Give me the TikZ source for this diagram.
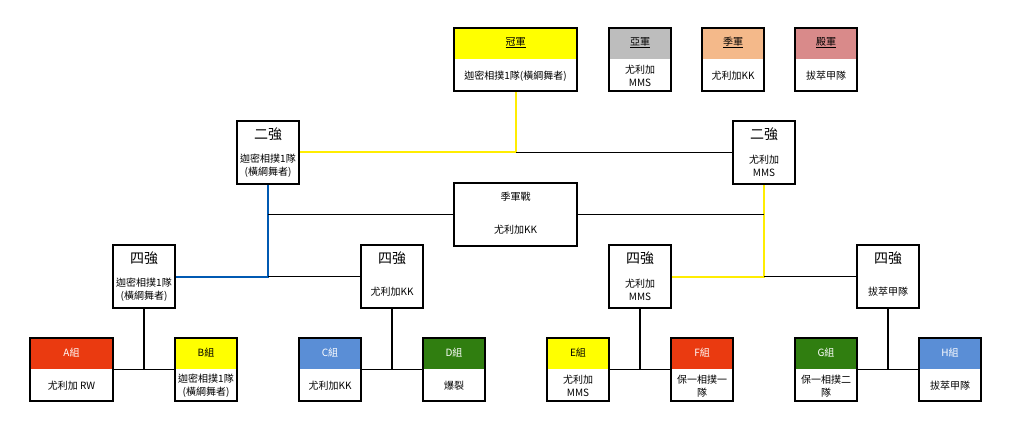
\documentclass[tikz,border=0pt]{standalone}
\usepackage{fontspec}
\setmainfont{Noto Sans CJK TC}
\usetikzlibrary{positioning}
\tikzset{
  box/.style={rectangle, draw=black, line width=1.6pt, inner sep=0pt, minimum height=63pt},
  head/.style={path picture={\fill[#1] ([yshift=-0.8pt]path picture bounding box.north west) rectangle ([yshift=-31pt]path picture bounding box.north east);}},
  txt/.style={font=\fontsize{10}{13}\selectfont, align=center},
  big/.style={font=\fontsize{14}{16}\selectfont},
  link/.style={line width=1.6pt, black},
  win/.style={line width=2pt, yellow!95!orange},
  bluewin/.style={line width=2pt, blue!50!cyan!70!black},
}
\definecolor{cRed}{HTML}{EA3A10}
\definecolor{cYel}{HTML}{FFFF00}
\definecolor{cBlue}{HTML}{5A8ED6}
\definecolor{cGreen}{HTML}{307E10}
\definecolor{cGray}{HTML}{BDBDBD}
\definecolor{cPeach}{HTML}{F4B98A}
\definecolor{cRose}{HTML}{D98A8A}
\begin{document}
\begin{tikzpicture}[x=1pt, y=-1pt]
\useasboundingbox (0,0) rectangle (1011,430);

% medal boxes
\node (champ) [box, head=cYel, minimum width=123pt] at (515.5,59.5) {};
\node (second) [box, head=cGray, minimum width=62pt] at (640,59.5) {};
\node (third) [box, head=cPeach, minimum width=62pt] at (733,59.5) {};
\node (fourth) [box, head=cRose, minimum width=62pt] at (826,59.5) {};
\node[txt] at ([yshift=-15.5pt]champ.north) {\underline{冠軍}};
\node[txt] at ([yshift=16pt]champ.south) {迦密相撲1隊(橫綱舞者)};
\node[txt] at ([yshift=-15.5pt]second.north) {\underline{亞軍}};
\node[txt] at ([yshift=16pt]second.south) {尤利加\\MMS};
\node[txt] at ([yshift=-15.5pt]third.north) {\underline{季軍}};
\node[txt] at ([yshift=16pt]third.south) {尤利加KK};
\node[txt] at ([yshift=-15.5pt]fourth.north) {\underline{殿軍}};
\node[txt] at ([yshift=16pt]fourth.south) {拔萃甲隊};

% final two
\node (fL) [box, minimum width=62pt] at (268,152.5) {};
\node (fR) [box, minimum width=62pt] at (764,152.5) {};
\node[big] at ([yshift=-14pt]fL.north) {二強};
\node[txt] at ([yshift=19pt]fL.south) {迦密相撲1隊\\(橫綱舞者)};
\node[big] at ([yshift=-14pt]fR.north) {二強};
\node[txt] at ([yshift=19pt]fR.south) {尤利加\\MMS};

% third place match
\node (bronze) [box, minimum width=123pt] at (515.5,214.5) {};
\node[txt] at ([yshift=-15pt]bronze.north) {季軍戰};
\node[txt] at ([yshift=17pt]bronze.south) {尤利加KK};

% semi finals
\node (s1) [box, minimum width=62pt] at (144,276.5) {};
\node (s2) [box, minimum width=62pt] at (392,276.5) {};
\node (s3) [box, minimum width=62pt] at (640,276.5) {};
\node (s4) [box, minimum width=62pt] at (888,276.5) {};
\foreach \s in {s1,s2,s3,s4}
  \node[big] at ([yshift=-14pt]\s.north) {四強};
\node[txt] at ([yshift=19pt]s1.south) {迦密相撲1隊\\(橫綱舞者)};
\node[txt] at ([yshift=17pt]s2.south) {尤利加KK};
\node[txt] at ([yshift=19pt]s3.south) {尤利加\\MMS};
\node[txt] at ([yshift=17pt]s4.south) {拔萃甲隊};

% groups
\node (gA) [box, head=cRed, minimum width=83pt] at (71.5,369.5) {};
\node (gB) [box, head=cYel, minimum width=62pt] at (206,369.5) {};
\node (gC) [box, head=cBlue, minimum width=62pt] at (330,369.5) {};
\node (gD) [box, head=cGreen, minimum width=62pt] at (454,369.5) {};
\node (gE) [box, head=cYel, minimum width=62pt] at (578,369.5) {};
\node (gF) [box, head=cRed, minimum width=62pt] at (702,369.5) {};
\node (gG) [box, head=cGreen, minimum width=62pt] at (826,369.5) {};
\node (gH) [box, head=cBlue, minimum width=62pt] at (950,369.5) {};
\node[txt, white] at ([yshift=-15.5pt]gA.north) {A組};
\node[txt] at ([yshift=-15.5pt]gB.north) {B組};
\node[txt, white] at ([yshift=-15.5pt]gC.north) {C組};
\node[txt, white] at ([yshift=-15.5pt]gD.north) {D組};
\node[txt] at ([yshift=-15.5pt]gE.north) {E組};
\node[txt, white] at ([yshift=-15.5pt]gF.north) {F組};
\node[txt, white] at ([yshift=-15.5pt]gG.north) {G組};
\node[txt, white] at ([yshift=-15.5pt]gH.north) {H組};
\node[txt] at ([yshift=16pt]gA.south) {尤利加 RW};
\node[txt] at ([yshift=16pt]gB.south) {迦密相撲1隊\\(橫綱舞者)};
\node[txt] at ([yshift=16pt]gC.south) {尤利加KK};
\node[txt] at ([yshift=16pt]gD.south) {爆裂};
\node[txt] at ([yshift=16pt]gE.south) {尤利加\\MMS};
\node[txt] at ([yshift=16pt]gF.south) {保一相撲一\\隊};
\node[txt] at ([yshift=16pt]gG.south) {保一相撲二\\隊};
\node[txt] at ([yshift=16pt]gH.south) {拔萃甲隊};

% group links
\draw[link] (gA.east) -- (gB.west);
\draw[link] (s1.south) -- (s1.south |- gA.east);
\draw[link] (gC.east) -- (gD.west);
\draw[link] (s2.south) -- (s2.south |- gC.east);
\draw[link] (gE.east) -- (gF.west);
\draw[link] (s3.south) -- (s3.south |- gE.east);
\draw[link] (gG.east) -- (gH.west);
\draw[link] (s4.south) -- (s4.south |- gG.east);

% semi links
\draw[bluewin] (s1.east) -| (fL.south);
\draw[link] (s2.west) -- (s2.west -| fL.south);
\draw[win] (s3.east) -| (fR.south);
\draw[link] (s4.west) -- (s4.west -| fR.south);

% bronze match
\draw[link] (bronze.west) -- (bronze.west -| fL.south);
\draw[link] (bronze.east) -- (bronze.east -| fR.south);

% final
\draw[win] (fL.east) -| (champ.south);
\draw[link] (fR.west) -- (fR.west -| champ.south);
\end{tikzpicture}
\end{document}
